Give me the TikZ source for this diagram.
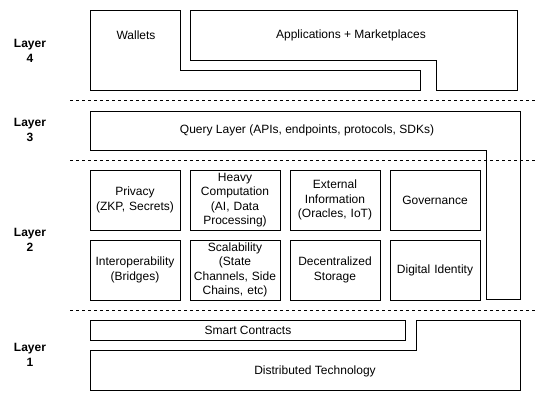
\documentclass[tikz,border=0pt]{standalone}
\usepackage{fontspec}
\setmainfont{Liberation Sans}
\usepackage{tikz}
\usetikzlibrary{positioning}
\tikzstyle{service} = [
    rectangle,
    draw = black,
    line width = 1pt,
    minimum width = 90pt,
    minimum height = 60pt,
    inner sep = 0pt,
    text width = 88pt,
    text centered,
]
\tikzstyle{layername} = [
    font = \fontsize{12}{14.4}\selectfont\bfseries,
    align = center,
]
\tikzstyle{outline} = [
    draw = black,
    line width = 1pt,
]
\tikzstyle{divider} = [
    draw = black,
    line width = 1pt,
    dash pattern = on 3pt off 3pt,
]

\begin{document}
\begin{tikzpicture}[x=1pt, y=-1pt, font=\fontsize{12}{14.4}\selectfont]
        \useasboundingbox (0,0) rectangle (547,402);

        %% Layer names
        \node (layerfour)  [layername] at (30,51)  {Layer\\4};
        \node (layerthree) [layername] at (30,130) {Layer\\3};
        \node (layertwo)   [layername] at (30,240) {Layer\\2};
        \node (layerone)   [layername] at (30,355) {Layer\\1};

        %% Dividers
        \coordinate (d4a) at (70,100);  \coordinate (d4b) at (537,100);
        \coordinate (d3a) at (70,160);  \coordinate (d3b) at (537,160);
        \coordinate (d2a) at (70,310);  \coordinate (d2b) at (537,310);
        \draw [divider] (d4a) -- (d4b);
        \draw [divider] (d3a) -- (d3b);
        \draw [divider] (d2a) -- (d2b);

        %% Layer 4
        \draw [outline] (90,10) -- (180,10) -- (180,70) -- (420,70) -- (420,90) -- (90,90) -- cycle;
        \draw [outline] (190,10) -- (517,10) -- (517,90) -- (436,90) -- (436,60) -- (190,60) -- cycle;
        \node (wallets) at (136,35) {Wallets};
        \node (apps)    at (351,35) {Applications + Marketplaces};

        %% Layer 3
        \draw [outline] (90,111) -- (520,111) -- (520,299) -- (486,299) -- (486,150) -- (90,150) -- cycle;
        \node (query) at (307,130) {Query Layer (APIs, endpoints, protocols, SDKs)};

        %% Layer 2
        \node (privacy)    [service] at (135,200) {Privacy\\(ZKP, Secrets)};
        \node (heavy)      [service] at (235,200) {Heavy\\Computation\\(AI, Data\\Processing)};
        \node (external)   [service] at (335,200) {External\\Information\\(Oracles, IoT)};
        \node (governance) [service] at (435,200) {Governance};
        \node (interop)    [service] at (135,270) {Interoperability\\(Bridges)};
        \node (scaling)    [service] at (235,270) {Scalability\\(State\\Channels, Side\\Chains, etc)};
        \node (storage)    [service] at (335,270) {Decentralized\\Storage};
        \node (identity)   [service] at (435,270) {Digital Identity};

        %% Layer 1
        \draw [outline] (90,320) rectangle (405,340);
        \draw [outline] (90,350) -- (416,350) -- (416,320) -- (520,320) -- (520,390) -- (90,390) -- cycle;
        \node (contracts)   at (248,330) {Smart Contracts};
        \node (distributed) at (315,371) {Distributed Technology};

    \end{tikzpicture}
\end{document}
